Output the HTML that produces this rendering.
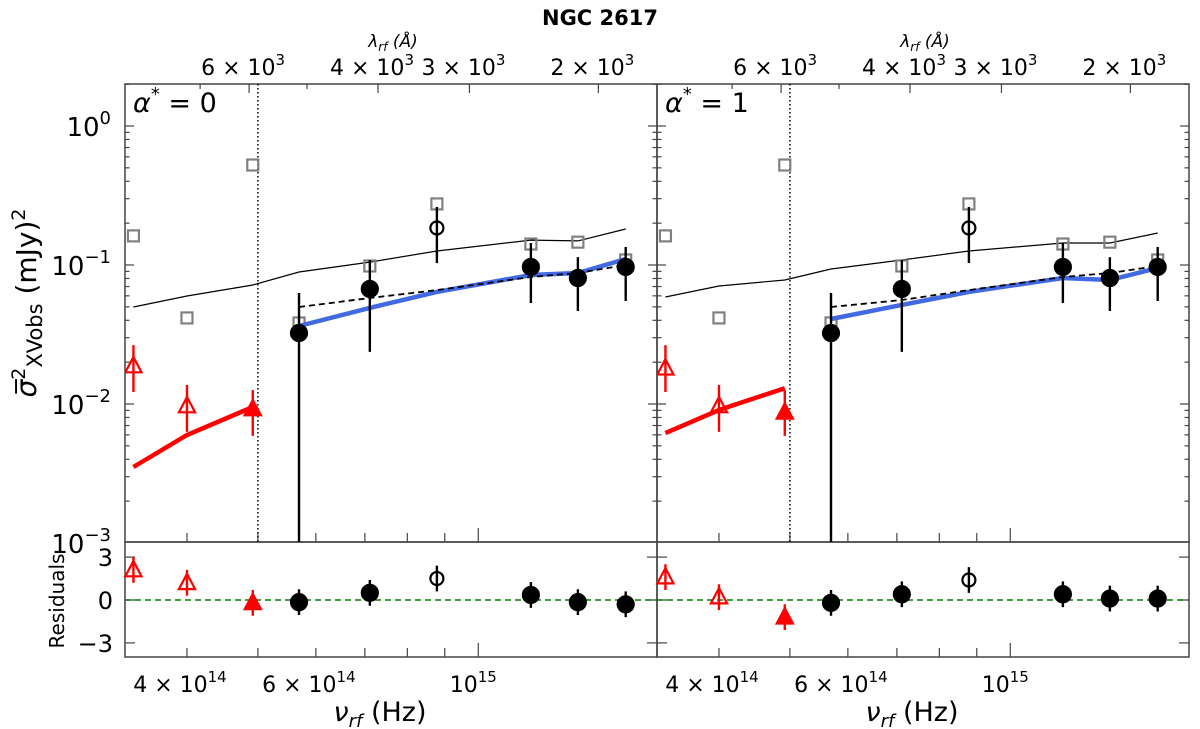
<!DOCTYPE html>
<html><head><meta charset="utf-8"><style>
html,body{margin:0;padding:0;background:#fff;}
svg{display:block;font-family:"DejaVu Sans","Liberation Sans",sans-serif;}
</style></head><body>
<svg id="chart" width="1200" height="729" viewBox="0 0 1200 729" xmlns="http://www.w3.org/2000/svg">
<text x="600" y="25" text-anchor="middle" font-size="21" font-weight="bold">NGC 2617</text>
<text x="36" y="303" transform="rotate(-90 36 303)" text-anchor="middle" font-size="28"><tspan font-style="italic">σ̅</tspan><tspan dy="-11" font-size="19">2</tspan><tspan dy="17" font-size="21">XVobs</tspan><tspan dy="-6"> (mJy)</tspan><tspan dy="-11" font-size="19">2</tspan></text>
<text x="64" y="601" transform="rotate(-90 64 601)" text-anchor="middle" font-size="20">Residuals</text>
<g id="g"></g>
</svg>
<script>
const freqs=[3.38e14,4.0e14,4.92e14,5.69e14,7.11e14,8.78e14,1.18e15,1.368e15,1.59e15];
const squares=[0.162,0.0416,0.524,0.0383,0.0984,0.275,0.1416,0.146,0.1087];
const optFreqIdx=[3,4,5,6,7,8];
const optVals=[0.0324,0.0672,0.1846,0.0968,0.0806,0.0968];
const optHi=[0.0629,0.1087,0.2615,0.1438,0.1139,0.1348];
const optLo=[0.0001,0.0237,0.1033,0.0533,0.0467,0.0551];
const optOpen=[false,false,true,false,false,false];
const redValsL=[0.01876,0.00968,0.0092];
const redValsR=[0.0181,0.00968,0.0087];
const redHi=[0.0265,0.0137,0.0126];
const redLo=[0.0122,0.0063,0.0059];
const redFilled=[false,false,true];
const redLineL=[0.00352,0.00598,0.00951];
const redLineR=[0.00618,0.00906,0.0130];
const blueL=[0.0364,0.0491,0.064,0.0848,0.0876,0.1105];
const blueR=[0.0409,0.0516,0.064,0.0806,0.078,0.0951];
const dashL=[0.0499,0.0579,0.066,0.082,0.0876,0.1];
const dashR=[0.0499,0.056,0.066,0.082,0.0876,0.0984];
const thinL=[0.0499,0.0598,0.0718,0.0891,0.105,0.126,0.151,0.149,0.1816];
const thinR=[0.0589,0.0706,0.078,0.0936,0.1087,0.126,0.144,0.144,0.17];
const resRedL=[2.1,1.2,-0.2];
const resRedR=[1.6,0.2,-1.2];
const resOptL=[-0.15,0.5,1.5,0.35,-0.15,-0.3];
const resOptR=[-0.2,0.4,1.4,0.4,0.1,0.1];
const resErr=0.9;
const alphaLabels=["0","1"];
const xTickVals=[4e14,5e14,6e14,7e14,8e14,9e14,1e15];
const xTickLabels=["4 × 10","","6 × 10","","","","10"];
const xTickExp=["14","","14","","","","15"];
const lamTicks=[7000,6000,5000,4000,3000,2000];
const lamLabels=["","6","","4","3","2"];
const yMajor=[1,0.1,0.01,0.001];
const yMajorExp=["0","−1","−2","−3"];
const resTicks=[3,0,-3];
const resLabels=["3","0","−3"];
const cutFreq=5.0e14;

const NS="http://www.w3.org/2000/svg";
const G=document.getElementById('g');
const W=532, TOP=84, MB=542, RB=657;
const LX0=14.5174, PPD=732;
function xs(f,x0){return x0+(Math.log10(f)-LX0)*PPD;}
function ys(v){return 126-139*Math.log10(v);}
function yr(r){return 600-14.3*r;}
function xl(l){return 378-732*Math.log10(l/4000);}
function mk(tag,attrs,parent){const e=document.createElementNS(NS,tag);for(const k in attrs)e.setAttribute(k,attrs[k]);(parent||G).appendChild(e);return e;}
function pl(pts){return pts.map(p=>p[0].toFixed(1)+','+p[1].toFixed(1)).join(' ');}
function tri(x,y,s){return pl([[x,y-s],[x-s*0.9,y+s*0.7],[x+s*0.9,y+s*0.7]]);}

[125,657].forEach((x0,pi)=>{
  const px=x0-125;
  const pg=mk('g',{});
  
  
  const clipId='clip'+pi;
  const cp=mk('clipPath',{id:clipId},pg);
  mk('rect',{x:x0,y:TOP,width:W,height:MB-TOP},cp);
  const f1=mk('rect',{x:x0,y:TOP,width:W,height:MB-TOP,fill:'none',stroke:'#444','stroke-width':1.5},pg);
  
  
  const f2=mk('rect',{x:x0,y:MB,width:W,height:RB-MB,fill:'none',stroke:'#444','stroke-width':1.5},pg);
  
  
  for(let d=-3;d<=0;d++){for(let m=1;m<=9;m++){const v=m*Math.pow(10,d);const y=ys(v);if(y<TOP||y>MB)continue;const L=m===1?9:4.5;
    mk('line',{x1:x0,x2:x0+L,y1:y,y2:y,stroke:'#444','stroke-width':1.2},pg);
    mk('line',{x1:x0+W,x2:x0+W-L,y1:y,y2:y,stroke:'#444','stroke-width':1.2},pg);}}
  {const y=ys(2);mk('line',{x1:x0,x2:x0+4.5,y1:y,y2:y,stroke:'#444','stroke-width':1.2},pg);mk('line',{x1:x0+W,x2:x0+W-4.5,y1:y,y2:y,stroke:'#444','stroke-width':1.2},pg);}
  if(pi===0){yMajor.forEach((v,i)=>{const t=mk('text',{x:x0-14,y:ys(v)+10,'text-anchor':'end','font-size':26},pg);t.textContent='10';const s=mk('tspan',{dy:-12,'font-size':18},t);s.textContent=yMajorExp[i];});
    resTicks.forEach((r,i)=>{const t=mk('text',{x:x0-12,y:yr(r)+9,'text-anchor':'end','font-size':24},pg);t.textContent=resLabels[i];});}
  resTicks.forEach(r=>{const y=yr(r);mk('line',{x1:x0,x2:x0+10,y1:y,y2:y,stroke:'#444','stroke-width':1.2},pg);mk('line',{x1:x0+W,x2:x0+W-10,y1:y,y2:y,stroke:'#444','stroke-width':1.2},pg);});
  xTickVals.forEach((f,i)=>{const x=xs(f,x0);const L=f===1e15?14:9;
    mk('line',{x1:x,x2:x,y1:MB,y2:MB-L,stroke:'#444','stroke-width':1.2},pg);
    mk('line',{x1:x,x2:x,y1:RB,y2:RB-L,stroke:'#444','stroke-width':1.2},pg);
    if(xTickLabels[i]){const t=mk('text',{x:x-(xTickLabels[i].length>3?7:5),y:692,'text-anchor':'middle','font-size':22},pg);t.textContent=xTickLabels[i];const s=mk('tspan',{dy:-10,'font-size':15},t);s.textContent=xTickExp[i];}});
  lamTicks.forEach((l,i)=>{const x=xl(l)+px;const L=lamLabels[i]?9:5;
    mk('line',{x1:x,x2:x,y1:TOP,y2:TOP+L,stroke:'#444','stroke-width':1.2},pg);
    if(lamLabels[i]){const t=mk('text',{x:x-6,y:75,'text-anchor':'middle','font-size':22},pg);t.textContent=lamLabels[i]+' × 10';const s=mk('tspan',{dy:-10,'font-size':15},t);s.textContent='3';}});
  const lt=mk('text',{x:393+px,y:47,'text-anchor':'middle','font-size':17,'font-style':'italic'},pg);
  
  
  lt.innerHTML='λ<tspan font-size="12" dy="4">rf</tspan><tspan dy="-4"> (Å)</tspan>';
  const xt=mk('text',{x:380+px,y:721,'text-anchor':'middle','font-size':27},pg);
  
  
  xt.innerHTML='<tspan font-style="italic">ν</tspan><tspan font-style="italic" font-size="18" dy="6">rf</tspan><tspan dy="-6"> (Hz)</tspan>';
  const at=mk('text',{x:x0+8,y:112,'font-size':27},pg);
  
  
  at.innerHTML='<tspan font-style="italic">α</tspan><tspan font-size="18" dy="-12">*</tspan><tspan dy="12"> = '+alphaLabels[pi]+'</tspan>';
  const dg=mk('g',{'clip-path':'url(#'+clipId+')'},pg);
  const dl=mk('line',{x1:xs(cutFreq,x0),x2:xs(cutFreq,x0),y1:TOP,y2:MB,stroke:'#000','stroke-width':1.5,'stroke-dasharray':'1.5,2.5'},dg);
  
  
  const thin=pi?thinR:thinL, blue=pi?blueR:blueL, dash=pi?dashR:dashL, rl=pi?redLineR:redLineL, rv=pi?redValsR:redValsL;
  const tl=mk('polyline',{points:pl(freqs.map((f,i)=>[xs(f,x0),ys(thin[i])])),fill:'none',stroke:'#000','stroke-width':1.2},dg);
  
  
  squares.forEach((v,i)=>{const r=mk('rect',{x:xs(freqs[i],x0)-5.5,y:ys(v)-5.5,width:11,height:11,fill:'none',stroke:'#808080','stroke-width':2.2},dg);
    
    });
  const rline=mk('polyline',{points:pl(rl.map((v,i)=>[xs(freqs[i],x0),ys(v)])),fill:'none',stroke:'#ff0000','stroke-width':4.5},dg);
  
  
  const bl=mk('polyline',{points:pl(blue.map((v,i)=>[xs(freqs[optFreqIdx[i]],x0),ys(v)])),fill:'none',stroke:'#4169e1','stroke-width':4.5},dg);
  
  
  const dsh=mk('polyline',{points:pl(dash.map((v,i)=>[xs(freqs[optFreqIdx[i]],x0),ys(v)])),fill:'none',stroke:'#000','stroke-width':1.8,'stroke-dasharray':'6,4'},dg);
  
  
  rv.forEach((v,i)=>{const x=xs(freqs[i],x0);
    mk('line',{x1:x,x2:x,y1:ys(redHi[i]),y2:ys(redLo[i]),stroke:'#ff0000','stroke-width':2.4},dg);
    const t=mk('polygon',{points:tri(x,ys(v),9),fill:redFilled[i]?'#ff0000':'none',stroke:'#ff0000','stroke-width':2.2},dg);
    
    });
  optVals.forEach((v,i)=>{const x=xs(freqs[optFreqIdx[i]],x0);
    mk('line',{x1:x,x2:x,y1:ys(optHi[i]),y2:ys(optLo[i]),stroke:'#000','stroke-width':2.4},dg);
    const c=mk('circle',{cx:x,cy:ys(v),r:optOpen[i]?6.5:8,fill:optOpen[i]?'none':'#000',stroke:'#000','stroke-width':2.2},dg);
    
    });
  const zl=mk('line',{x1:x0,x2:x0+W,y1:yr(0),y2:yr(0),stroke:'#008000','stroke-width':1.6,'stroke-dasharray':'6,4'},pg);
  
  
  (pi?resRedR:resRedL).forEach((r,i)=>{const x=xs(freqs[i],x0);
    mk('line',{x1:x,x2:x,y1:yr(r+resErr),y2:yr(r-resErr),stroke:'#ff0000','stroke-width':2.4},pg);
    const t=mk('polygon',{points:tri(x,yr(r),9),fill:redFilled[i]?'#ff0000':'none',stroke:'#ff0000','stroke-width':2.2},pg);
    
    });
  (pi?resOptR:resOptL).forEach((r,i)=>{const x=xs(freqs[optFreqIdx[i]],x0);
    mk('line',{x1:x,x2:x,y1:yr(r+resErr),y2:yr(r-resErr),stroke:'#000','stroke-width':2.4},pg);
    const c=mk('circle',{cx:x,cy:yr(r),r:optOpen[i]?6.5:8,fill:optOpen[i]?'none':'#000',stroke:'#000','stroke-width':2.2},pg);
    
    });
});
</script>
</body></html>
